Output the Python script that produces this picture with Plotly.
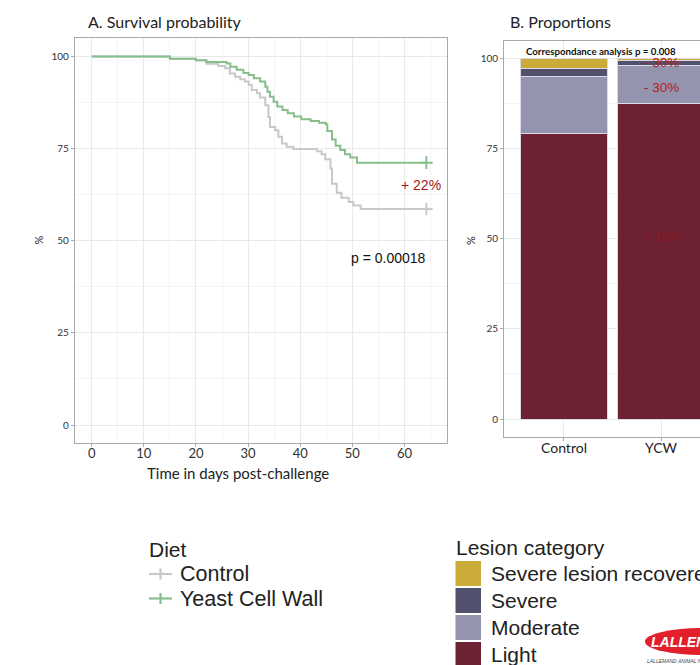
import plotly.graph_objects as go

# ---------------- data ----------------
days_ctl = [0, 15.0, 20.0, 22.0, 24.3, 25.6, 26.5, 27.5, 28.5, 29.4, 30.1, 30.7, 31.7, 32.3, 33.3, 33.9,
            34.2, 35.2, 35.8, 36.5, 37.4, 38.7, 43.2, 44.1, 44.8, 45.8, 46.1, 47.0, 47.9, 49.3, 50.2, 51.6, 64.2]
surv_ctl = [100, 99.4, 99.0, 98.0, 97.4, 96.8, 95.4, 94.5, 93.8, 93.2, 92.3, 90.9, 90.0, 88.9, 86.8, 83.6,
            80.9, 80.0, 78.2, 76.4, 75.5, 74.9, 74.3, 73.5, 72.1, 69.6, 65.5, 63.0, 61.7, 60.5, 59.6, 58.6, 58.6]
days_ycw = [0, 15.0, 20.0, 22.0, 25.9, 26.6, 27.8, 29.1, 30.1, 31.1, 32.3, 33.3, 33.7, 34.2, 34.9, 35.6,
            36.6, 37.6, 38.8, 40.2, 42.0, 43.6, 44.9, 45.2, 46.1, 46.8, 47.7, 48.6, 49.6, 50.9, 64.2]
surv_ycw = [100, 99.4, 99.0, 98.5, 98.1, 97.2, 96.4, 95.5, 95.0, 94.1, 93.2, 91.8, 90.4, 89.1, 87.7, 86.4,
            85.5, 84.6, 83.7, 83.0, 82.5, 82.0, 81.6, 79.8, 77.5, 75.8, 74.6, 73.5, 72.6, 71.2, 71.2]

diet_names = ["Control", "Yeast Cell Wall"]
diet_colors = ["#c8c8c8", "#86bf8c"]

groups = ["Control", "YCW"]
lesion_names = ["Light", "Moderate", "Severe", "Severe lesion recovered"]
lesion_values = {
    "Light": [79.1, 87.5],
    "Moderate": [15.9, 10.7],
    "Severe": [2.2, 1.4],
    "Severe lesion recovered": [2.8, 0.4],
}
lesion_colors = {
    "Light": "#6d2234",
    "Moderate": "#9594ae",
    "Severe": "#51516d",
    "Severe lesion recovered": "#cbab3a",
}

W, H = 700, 665
def px(x):
    return x / W
def py(y):
    return 1 - y / H

FONT = "Lato"
LEG_FONT = "Liberation Sans"

fig = go.Figure()

# ---------------- panel A ----------------
for name, d, s, c in [(diet_names[0], days_ctl, surv_ctl, diet_colors[0]),
                      (diet_names[1], days_ycw, surv_ycw, diet_colors[1])]:
    fig.add_trace(go.Scatter(x=d, y=s, mode="lines", line=dict(color=c, width=2, shape="hv"),
                             name=name, showlegend=False, xaxis="x", yaxis="y"))
    fig.add_trace(go.Scatter(x=[d[-1]], y=[s[-1]], mode="markers",
                             marker=dict(symbol="cross-thin", size=9, line=dict(color=c, width=2)),
                             showlegend=False, xaxis="x", yaxis="y"))

# ---------------- panel B ----------------
for ln in lesion_names:
    fig.add_trace(go.Bar(x=groups, y=lesion_values[ln], name=ln, width=0.9,
                         marker=dict(color=lesion_colors[ln], line=dict(color="#dcd8e4", width=1)),
                         showlegend=False, xaxis="x2", yaxis="y2"))

grid = "#e9e9e9"
minor_grid = "#f4f4f4"
frame = "#a9a9a9"

fig.update_layout(
    width=W, height=H, margin=dict(l=0, r=0, t=0, b=0),
    paper_bgcolor="white", plot_bgcolor="white",
    barmode="stack", bargap=0.1,
    showlegend=False,
    xaxis=dict(domain=[px(75), px(446.7)], anchor="y", range=[-3.2, 68.1], tickmode="linear", tick0=0, dtick=10,
               showgrid=True, gridcolor=grid, gridwidth=1,
               minor=dict(dtick=5, showgrid=True, gridcolor=minor_grid, gridwidth=1),
               showline=True, mirror=True, linecolor=frame, linewidth=1.3,
               ticks="outside", ticklen=3, tickcolor=frame, zeroline=False, ticklabelstandoff=-4,
               tickfont=dict(family=FONT, size=13, color="#333")),
    yaxis=dict(domain=[py(442.7), py(37.7)], anchor="x", range=[-4.8, 105.1], tickmode="linear", tick0=0, dtick=25,
               showgrid=True, gridcolor=grid, gridwidth=1,
               minor=dict(dtick=12.5, showgrid=True, gridcolor=minor_grid),
               showline=True, mirror=True, linecolor=frame, linewidth=1.3,
               ticks="outside", ticklen=3, tickcolor=frame, zeroline=False,
               tickfont=dict(family=FONT, size=10, color="#333")),
    xaxis2=dict(domain=[px(504.3), 1.0], anchor="y2", range=[-0.615, 1.402], type="category",
                showgrid=True, gridcolor=grid,
                showline=True, mirror=True, linecolor=frame, linewidth=1.3,
                ticks="outside", ticklen=3, tickcolor=frame, zeroline=False, ticklabelstandoff=-5,
                tickfont=dict(family=FONT, size=14, color="#222")),
    yaxis2=dict(domain=[py(436.7), py(41)], anchor="x2", range=[-4.9, 104.9], tickmode="linear", tick0=0, dtick=25,
                showgrid=True, gridcolor=grid,
                minor=dict(dtick=12.5, showgrid=True, gridcolor=minor_grid),
                showline=True, mirror=False, linecolor=frame, linewidth=1.3,
                ticks="outside", ticklen=3, tickcolor=frame, zeroline=False,
                tickfont=dict(family=FONT, size=10, color="#333")),
)

ann = []
# titles
ann.append(dict(text="A. Survival probability", x=px(86), y=py(22), xref="paper", yref="paper",
                xanchor="left", yanchor="middle", showarrow=False,
                font=dict(family=FONT, size=16, color="#222")))
ann.append(dict(text="B. Proportions", x=px(508), y=py(22), xref="paper", yref="paper",
                xanchor="left", yanchor="middle", showarrow=False,
                font=dict(family=FONT, size=16, color="#222")))
# axis titles
ann.append(dict(text="Time in days post-challenge", x=px(237.5), y=py(472.5), xref="paper", yref="paper",
                xanchor="center", yanchor="middle", showarrow=False,
                font=dict(family=FONT, size=15, color="#222")))
ann.append(dict(text="%", x=px(37.5), y=py(240), xref="paper", yref="paper", textangle=-90,
                xanchor="center", yanchor="middle", showarrow=False,
                font=dict(family=FONT, size=11, color="#222")))
ann.append(dict(text="%", x=px(470), y=py(240), xref="paper", yref="paper", textangle=-90,
                xanchor="center", yanchor="middle", showarrow=False,
                font=dict(family=FONT, size=11, color="#222")))
# panel A texts
ann.append(dict(text="+ 22%", x=63.1, y=65.2, xref="x", yref="y", showarrow=False,
                xanchor="center", yanchor="middle",
                font=dict(family=LEG_FONT, size=14, color="#a31818")))
ann.append(dict(text="p = 0.00018", x=56.9, y=45.3, xref="x", yref="y", showarrow=False,
                xanchor="center", yanchor="middle",
                font=dict(family=LEG_FONT, size=14, color="#111")))
# panel B texts
ann.append(dict(text="<b>Correspondance analysis p = 0.008</b>", x=0.38, y=102.1, xref="x2", yref="y2",
                showarrow=False, xanchor="center", yanchor="middle",
                font=dict(family=FONT, size=9.7, color="#111")))
ann.append(dict(text="- 30%", x=1.0, y=98.8, xref="x2", yref="y2", showarrow=False,
                xanchor="center", yanchor="middle", font=dict(family=LEG_FONT, size=13.5, color="#b01e1e")))
ann.append(dict(text="- 30%", x=1.0, y=91.9, xref="x2", yref="y2", showarrow=False,
                xanchor="center", yanchor="middle", font=dict(family=LEG_FONT, size=13.5, color="#b01e1e")))
ann.append(dict(text="+ 16%", x=1.0, y=50.7, xref="x2", yref="y2", showarrow=False,
                xanchor="center", yanchor="middle", font=dict(family=LEG_FONT, size=13.5, color="#8a1a22")))

shapes = []
# Diet legend (manual)
ann.append(dict(text="Diet", x=px(147), y=py(549), xref="paper", yref="paper", xanchor="left",
                yanchor="middle", showarrow=False, font=dict(family=LEG_FONT, size=21, color="#222")))
for i, (nm, col) in enumerate(zip(diet_names, diet_colors)):
    yc = 574 + i * 24.5
    shapes.append(dict(type="line", xref="paper", yref="paper", x0=px(149), x1=px(172), y0=py(yc), y1=py(yc),
                       line=dict(color=col, width=2.2)))
    shapes.append(dict(type="line", xref="paper", yref="paper", x0=px(160.5), x1=px(160.5),
                       y0=py(yc - 5.5), y1=py(yc + 5.5), line=dict(color=col, width=2.2)))
    ann.append(dict(text=nm, x=px(178), y=py(yc), xref="paper", yref="paper", xanchor="left",
                    yanchor="middle", showarrow=False, font=dict(family=LEG_FONT, size=21.5, color="#222")))

# Lesion legend (manual)
ann.append(dict(text="Lesion category", x=px(454), y=py(547), xref="paper", yref="paper", xanchor="left",
                yanchor="middle", showarrow=False, font=dict(family=LEG_FONT, size=21, color="#222")))
for i, ln in enumerate(reversed(lesion_names)):
    y0 = 561 + i * 27
    shapes.append(dict(type="rect", xref="paper", yref="paper", x0=px(455.5), x1=px(481),
                       y0=py(y0), y1=py(y0 + 25), fillcolor=lesion_colors[ln], line=dict(width=0)))
    ann.append(dict(text=ln, x=px(489), y=py(y0 + 12.5), xref="paper", yref="paper", xanchor="left",
                    yanchor="middle", showarrow=False, font=dict(family=LEG_FONT, size=21, color="#222")))

# logo
shapes.append(dict(type="circle", xref="paper", yref="paper", x0=px(645), x1=px(760), y0=py(628), y1=py(655),
                   fillcolor="#e2202c", line=dict(width=0)))
ann.append(dict(text="<b><i>LALLEMAND</i></b>", x=px(649), y=py(641.5), xref="paper", yref="paper",
                xanchor="left", yanchor="middle", showarrow=False,
                font=dict(family=LEG_FONT, size=14, color="white")))
ann.append(dict(text="<i>LALLEMAND ANIMAL NUTRITION</i>", x=px(645), y=py(661), xref="paper", yref="paper",
                xanchor="left", yanchor="middle", showarrow=False,
                font=dict(family=LEG_FONT, size=5, color="#444")))

fig.update_layout(annotations=ann, shapes=shapes)
fig.write_html("out.html", config={"displayModeBar": False},
               post_script="document.body.style.margin='0px';document.body.style.overflow='hidden';")
